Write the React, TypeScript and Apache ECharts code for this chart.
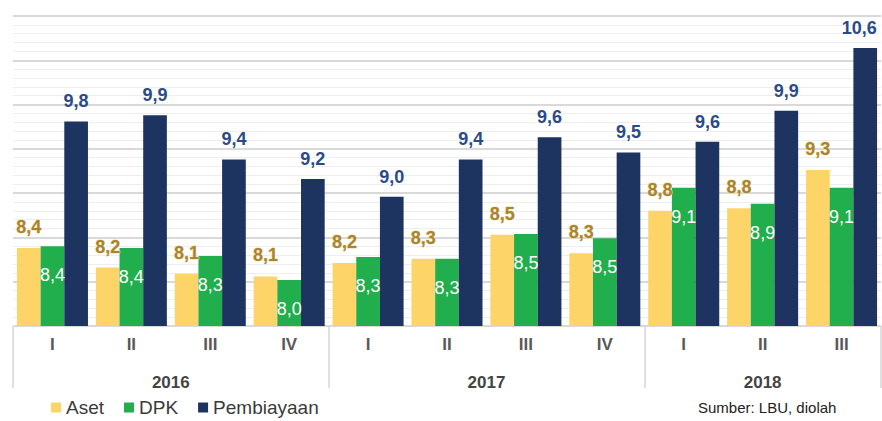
import React, { useEffect, useRef } from "react";
import * as echarts from "echarts";

const quarters = ["I", "II", "III", "IV", "I", "II", "III", "IV", "I", "II", "III"];
const years = ["2016", "2017", "2018"];
const yearCenters = [2, 6, 9.5];
const yearBounds = [0, 4, 8, 11];
const aset = [8.38, 8.16, 8.09, 8.06, 8.21, 8.26, 8.53, 8.32, 8.8, 8.83, 9.26];
const dpk = [8.4, 8.38, 8.29, 8.02, 8.28, 8.26, 8.54, 8.49, 9.06, 8.88, 9.06];
const pembiayaan = [9.81, 9.88, 9.38, 9.16, 8.96, 9.38, 9.63, 9.46, 9.58, 9.93, 10.64];
const seriesNames = ["Aset", "DPK", "Pembiayaan"];
const source = "Sumber: LBU, diolah";

const FONT = '"Liberation Sans", Arial, sans-serif';
const fmt = (p: any) => Number(p.value).toFixed(1).replace(".", ",");

export default function App() {
  const ref = useRef<HTMLDivElement>(null);
  useEffect(() => {
    if (!ref.current) return;
    const chart = echarts.init(ref.current, undefined, { renderer: "svg" });
    const last = pembiayaan.length - 1;
    chart.setOption({
      animation: false,
      textStyle: { fontFamily: FONT },
      grid: { left: 13, right: 1, top: 16, bottom: 95 },
      legend: {
        left: 51,
        top: 398,
        padding: 0,
        icon: "rect",
        itemWidth: 10,
        itemHeight: 10,
        itemGap: 20,
        data: seriesNames,
        textStyle: { fontFamily: FONT, fontSize: 19, color: "#3a3a3a" },
      },
      xAxis: [
        {
          type: "category",
          data: quarters,
          axisLine: { show: false },
          axisTick: { show: false },
          axisLabel: { margin: 10, fontSize: 17, fontWeight: "bold", color: "#5a5a5a", fontFamily: FONT },
        },
        {
          type: "value",
          min: 0,
          max: 11,
          position: "bottom",
          axisLine: { show: false },
          splitLine: { show: false },
          axisTick: {
            show: true,
            customValues: yearBounds,
            length: 62,
            lineStyle: { color: "#d6d6d6", width: 1.5 },
          },
          axisLabel: {
            customValues: yearCenters,
            margin: 48,
            fontSize: 17,
            fontWeight: "bold",
            color: "#444",
            fontFamily: FONT,
            formatter: (v: number) => {
              const i = yearCenters.indexOf(v);
              return i >= 0 ? years[i] : "";
            },
          },
        },
      ],
      yAxis: {
        type: "value",
        min: 7.5,
        max: 11,
        interval: 0.5,
        axisLabel: { show: false },
        axisLine: { show: false },
        axisTick: { show: false },
        splitLine: { lineStyle: { color: "#d9d9d9", width: 2 } },
        minorTick: { show: false, splitNumber: 5 },
        minorSplitLine: { show: true, lineStyle: { color: "#eeeeee", width: 1 } },
      },
      series: [
        {
          name: seriesNames[0],
          type: "bar",
          data: aset,
          barGap: "0%",
          barCategoryGap: "10%",
          itemStyle: { color: "#FCD468" },
          label: {
            show: true,
            position: "top",
            distance: 12,
            formatter: fmt,
            fontSize: 18,
            fontWeight: "bold",
            color: "#A8852E",
            textBorderColor: "#efd9a0",
            textBorderWidth: 0.8,
            fontFamily: FONT,
          },
        },
        {
          name: seriesNames[1],
          type: "bar",
          data: dpk,
          itemStyle: { color: "#21AE4C" },
          label: {
            show: true,
            position: "insideTop",
            distance: 20,
            formatter: fmt,
            fontSize: 18,
            color: "#ffffff",
            fontFamily: FONT,
          },
        },
        {
          name: seriesNames[2],
          type: "bar",
          data: pembiayaan.map((v, i) => (i === last ? { value: v, label: { offset: [-6, 0] } } : v)),
          itemStyle: { color: "#1D3461" },
          label: {
            show: true,
            position: "top",
            distance: 11,
            formatter: fmt,
            fontSize: 18,
            fontWeight: "bold",
            color: "#2A4A88",
            fontFamily: FONT,
          },
        },
      ],
      graphic: [
        {
          type: "text",
          left: 698,
          top: 400,
          style: { text: source, fontSize: 15, fill: "#222", fontFamily: FONT },
        },
      ],
    });
    return () => chart.dispose();
  }, []);
  return <div ref={ref} style={{ position: "absolute", left: 0, top: 0, width: 882, height: 421 }} />;
}
